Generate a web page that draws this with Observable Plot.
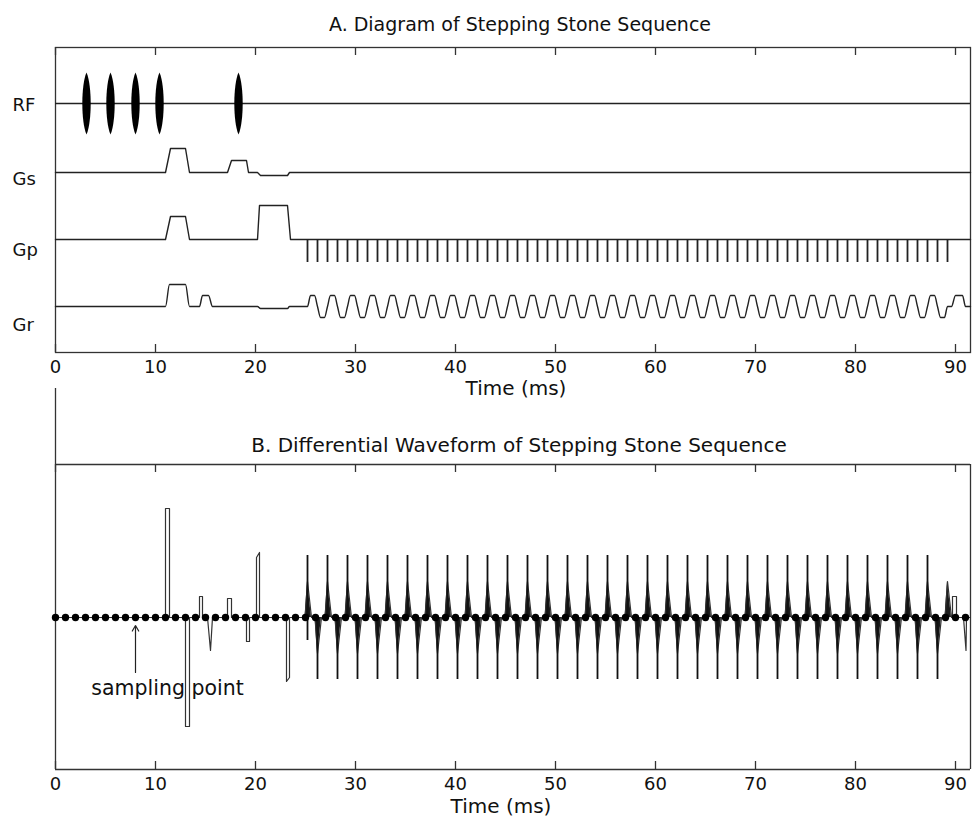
<!DOCTYPE html>
<html><head><meta charset="utf-8">
<script src="https://cdn.jsdelivr.net/npm/d3@7"></script>
<script src="https://cdn.jsdelivr.net/npm/@observablehq/plot@0.6"></script>
<style>
body{margin:0;background:#fff;}
#wrap{position:relative;width:978px;height:822px;}
#wrap svg{position:absolute;left:0;overflow:visible;}
</style></head><body><div id="wrap"></div>
<script>
// ---------- data ----------
const xTicks = [0, 10, 20, 30, 40, 50, 60, 70, 80, 90];
const rowNames = ["RF", "Gs", "Gp", "Gr"];
const rfPulses = [3.1, 5.5, 8.0, 10.4, 18.3];            // ms, RF pulse centres
const rfHalfHeight = 31;
// gradient lobes: [ramp start, plateau start, plateau end, ramp end, amplitude]
const gsLobes = [[11.0, 11.5, 13.0, 13.4, 24], [17.2, 17.6, 19.1, 19.3, 12], [20.2, 20.5, 23.2, 23.4, -3]];
const gpLobes = [[11.0, 11.5, 13.0, 13.4, 23], [20.2, 20.4, 23.2, 23.5, 34]];
const grPrepLobes = [[11.0, 11.4, 13.0, 13.4, 22], [14.4, 14.7, 15.3, 15.7, 11], [20.2, 20.5, 23.2, 23.4, -2]];
const grRewinder = [[89.6, 90.0, 90.7, 91.0, 11]];
// echo-planar readout: lobe boundaries (ms) and polarity of the lobe starting there
const readoutTimes = [25.2,26.2,27.2,28.2,29.2,30.2,31.2,32.2,33.2,34.2,35.2,36.2,37.2,38.2,39.2,40.2,41.2,42.2,43.2,44.2,45.2,46.2,47.2,48.2,49.2,50.2,51.2,52.2,53.2,54.2,55.2,56.2,57.2,58.2,59.2,60.2,61.2,62.2,63.2,64.2,65.2,66.2,67.2,68.2,69.2,70.2,71.2,72.2,73.2,74.2,75.2,76.2,77.2,78.2,79.2,80.2,81.2,82.2,83.2,84.2,85.2,86.2,87.2,88.2,89.2];
const readoutSigns = [1,-1,1,-1,1,-1,1,-1,1,-1, 1,-1,1,-1,1,-1,1,-1,1,-1, 1,-1,1,-1,1,-1,1,-1,1,-1, 1,-1,1,-1,1,-1,1,-1,1,-1, 1,-1,1,-1,1,-1,1,-1,1,-1, 1,-1,1,-1,1,-1,1,-1,1,-1, 1,-1,1,-1,1];
const grReadAmp = 11;
const gpBlipDepth = 23;
// panel B: differential waveform
const bPrepShapes = [
  [[11.0, 0], [11.0, 109], [11.4, 109], [11.4, 0]],
  [[13.0, 0], [13.0, -109], [13.4, -109], [13.4, 0]],
  [[14.4, 0], [14.4, 21], [14.7, 21], [14.7, 0]],
  [[15.2, 0], [15.5, -33], [15.7, 0]],
  [[17.2, 0], [17.2, 19], [17.6, 19], [17.6, 0]],
  [[19.1, 0], [19.1, -24], [19.4, -24], [19.4, 0]],
  [[20.1, 0], [20.1, 60], [20.4, 65], [20.4, 0]],
  [[23.1, 0], [23.1, -64], [23.4, -60], [23.4, 0]]
];
const bEndShapes = [
  [[89.7, 0], [89.7, 21], [90.1, 21], [90.1, 0]],
  [[90.8, 0], [91.05, -33], [91.1, 0]]
];
const bBump = 36;        // triangular lobe at each readout switch
const bSpike = 62;       // sharp spike at each readout switch (all but the last)
const bExtraSpikes = [[25.2, -23]];
const samplingTimes = [0,1,2,3,4,5,6,7,8,9,10,11,12,13,14,15,16,17,18,19,20,21,22,23,24,25,26,27,28,29,30,31,32,33,34,35,36,37,38,39,40,41,42,43,44,45,46,47,48,49,50,51,52,53,54,55,56,57,58,59,60,61,62,63,64,65,66,67,68,69,70,71,72,73,74,75,76,77,78,79,80,81,82,83,84,85,86,87,88,89,90,91];
const annotation = [{t: 8, y1: -55, y2: -8, labelT: 11.2, labelY: -71, label: "sampling point"}];

// ---------- layout ----------
const X_MAX = 91.5;
const A_TOP = 305;
const rowBase = [249, 180, 113, 46];
const rowLabelY = [247, 173, 102, 27];
const TICK = 8;
const INK = "#222";
const FRAME = "#333";
const FONT = "DejaVu Sans";
const grRamp = 0.3;

// ---------- build waveforms ----------
function lobePoints(lobes) {
  const pts = [];
  for (const [a, b, c, d, amp] of lobes) pts.push([a, 0], [b, amp], [c, amp], [d, 0]);
  return pts;
}
function rowLine(pts, base, row) {
  return [[0, 0], ...pts, [X_MAX, 0]].map(([t, v]) => ({row, t, y: base + v}));
}
const gsLine = rowLine(lobePoints(gsLobes), rowBase[1], "Gs");
const gpLine = rowLine(lobePoints(gpLobes), rowBase[2], "Gp");
const grPts = lobePoints(grPrepLobes);
for (let k = 0; k < readoutTimes.length - 1; k++) {
  const a = readoutTimes[k], d = readoutTimes[k + 1], s = readoutSigns[k];
  grPts.push([a, 0], [a + grRamp, s * grReadAmp], [d - grRamp, s * grReadAmp]);
}
grPts.push([readoutTimes[readoutTimes.length - 1], 0]);
grPts.push(...lobePoints(grRewinder));
const grLine = rowLine(grPts, rowBase[3], "Gr");

// panel B polyline + triangles + spikes
const bPts = [[0, 0]];
for (const sh of bPrepShapes) bPts.push(...sh);
const tris = [];
readoutTimes.forEach((t, k) => {
  const s = readoutSigns[k];
  const tri = [[t - 0.25, 0], [t, s * bBump], [t + 0.4, 0]];
  bPts.push(...tri);
  tri.forEach(([x, v]) => tris.push({id: k, t: x, v}));
});
for (const sh of bEndShapes) bPts.push(...sh);
bPts.push([X_MAX, 0]);
const bWave = bPts.map(([t, v]) => ({t, v}));
const spikes = readoutTimes.slice(0, -1).map((t, k) => ({t, v: readoutSigns[k] * bSpike}));
bExtraSpikes.forEach(([t, v]) => spikes.push({t, v}));

// RF pulse: elongated ellipse symbol
const lens = {
  draw(ctx, size) {
    const r = Math.sqrt(size / Math.PI);
    const rx = r * 0.135, c = rx / 0.75;
    ctx.moveTo(0, -r);
    ctx.bezierCurveTo(c, -0.6 * r, c, 0.6 * r, 0, r);
    ctx.bezierCurveTo(-c, 0.6 * r, -c, -0.6 * r, 0, -r);
    ctx.closePath();
  }
};

const style = {fontFamily: FONT, fontSize: "18px", color: "#111", background: "transparent"};

const plotA = Plot.plot({
  width: 978, height: 404, marginLeft: 55, marginRight: 8, marginTop: 47, marginBottom: 52,
  style,
  x: {domain: [0, X_MAX]},
  y: {domain: [0, A_TOP], axis: null},
  marks: [
    Plot.frame({stroke: FRAME, strokeWidth: 1.3}),
    Plot.ruleX(xTicks, {x: d => d, y1: () => 0, y2: () => TICK, stroke: FRAME, strokeWidth: 1.3}),
    Plot.ruleX(xTicks, {x: d => d, y1: () => A_TOP, y2: () => A_TOP - TICK, stroke: FRAME, strokeWidth: 1.3}),
    Plot.axisX(xTicks, {tickSize: 0, tickPadding: 8, fontSize: 18, label: null, fill: "#111"}),
    Plot.text(["Time (ms)"], {frameAnchor: "bottom", dy: 42, dx: 3, fontSize: 20, fill: "#111"}),
    Plot.text(["A. Diagram of Stepping Stone Sequence"], {frameAnchor: "top", dy: -30, dx: 7, fontSize: 19, fill: "#111"}),
    Plot.text(rowNames, {frameAnchor: "left", y: (d, i) => rowLabelY[i], dx: -43, textAnchor: "start", fontSize: 18, fill: "#111"}),
    Plot.ruleY([rowBase[0]], {stroke: INK, strokeWidth: 1.4}),
    Plot.dot(rfPulses, {x: d => d, y: () => rowBase[0], r: rfHalfHeight, symbol: lens, fill: "black", stroke: "none"}),
    Plot.line(gsLine, {x: "t", y: "y", stroke: INK, strokeWidth: 1.4}),
    Plot.line(gpLine, {x: "t", y: "y", stroke: INK, strokeWidth: 1.4}),
    Plot.ruleX(readoutTimes, {x: d => d, y1: () => rowBase[2], y2: () => rowBase[2] - gpBlipDepth, stroke: INK, strokeWidth: 1.8}),
    Plot.line(grLine, {x: "t", y: "y", stroke: INK, strokeWidth: 1.4, curve: "monotone-x"})
  ]
});

const B_BOT = -152, B_FRAME_TOP = 153, B_TOP = 229;
const plotB = Plot.plot({
  width: 978, height: 442, marginLeft: 55, marginRight: 8, marginTop: 8, marginBottom: 53,
  style,
  x: {domain: [0, X_MAX]},
  y: {domain: [B_BOT, B_TOP], axis: null},
  marks: [
    Plot.ruleX([0], {stroke: FRAME, strokeWidth: 1.3}),
    Plot.ruleY([B_FRAME_TOP], {stroke: FRAME, strokeWidth: 1.3}),
    Plot.ruleY([B_BOT], {stroke: FRAME, strokeWidth: 1.3}),
    Plot.ruleX([X_MAX], {y1: () => B_BOT, y2: () => B_FRAME_TOP, stroke: FRAME, strokeWidth: 1.3}),
    Plot.ruleX(xTicks, {x: d => d, y1: () => B_BOT, y2: () => B_BOT + TICK, stroke: FRAME, strokeWidth: 1.3}),
    Plot.ruleX(xTicks, {x: d => d, y1: () => B_FRAME_TOP, y2: () => B_FRAME_TOP - TICK, stroke: FRAME, strokeWidth: 1.3}),
    Plot.axisX(xTicks, {tickSize: 0, tickPadding: 8, fontSize: 18, label: null, fill: "#111"}),
    Plot.text(["Time (ms)"], {frameAnchor: "bottom", dy: 43, dx: -12, fontSize: 20, fill: "#111"}),
    Plot.text(["B. Differential Waveform of Stepping Stone Sequence"], {frameAnchor: "top", dy: 49, dx: 6, fontSize: 20, fill: "#111"}),
    Plot.areaY(tris, {x: "t", y: "v", z: "id", fill: "#1a1a1a", curve: "linear"}),
    Plot.line(bWave, {x: "t", y: "v", stroke: "#333", strokeWidth: 1.2}),
    Plot.ruleX(spikes, {x: "t", y1: () => 0, y2: "v", stroke: "#111", strokeWidth: 1.8}),
    Plot.dot(samplingTimes, {x: d => d, y: () => 0, r: 3.7, fill: "black", stroke: "none"}),
    Plot.arrow(annotation, {x1: "t", x2: "t", y1: "y1", y2: "y2", stroke: INK, strokeWidth: 1.2, headLength: 8}),
    Plot.text(annotation, {x: "labelT", y: "labelY", text: "label", fontSize: 20.5, fill: "#111"})
  ]
});

const wrap = document.getElementById("wrap");
plotA.style.top = "0px";
plotB.style.top = "380px";
wrap.appendChild(plotA);
wrap.appendChild(plotB);
</script></body></html>
